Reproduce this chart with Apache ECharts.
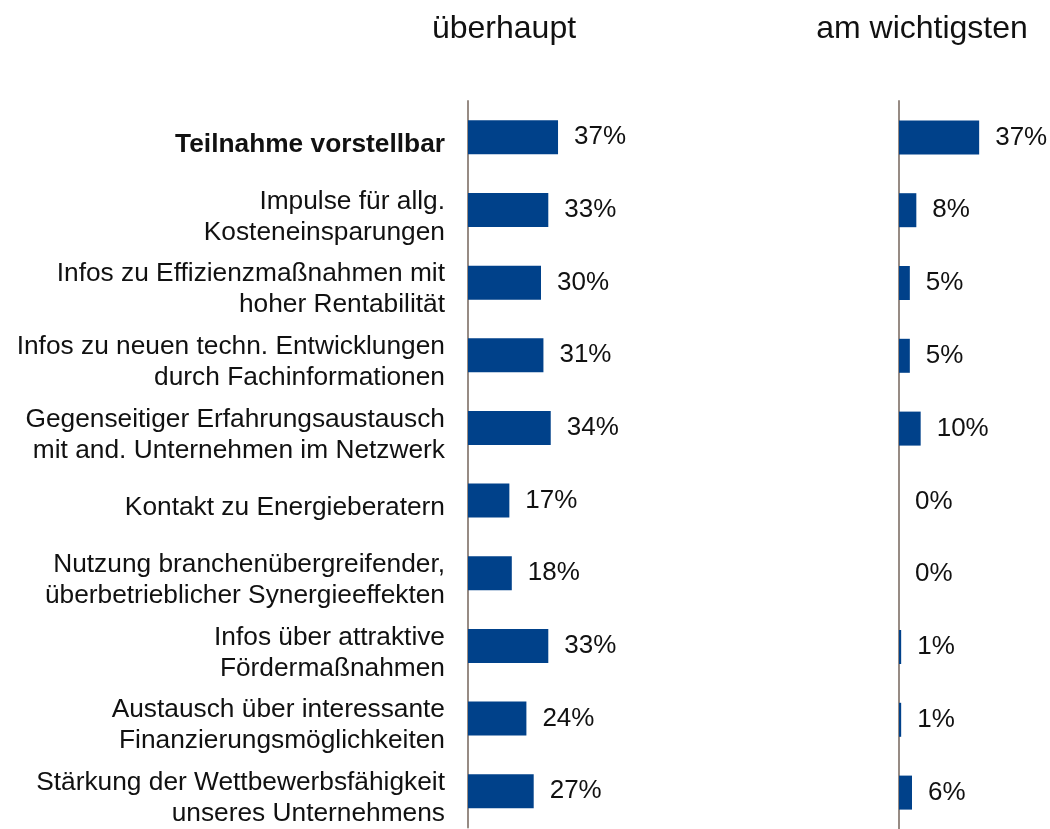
<!DOCTYPE html>
<html>
<head>
<meta charset="utf-8">
<script src="https://cdn.jsdelivr.net/npm/echarts@6/dist/echarts.min.js"></script>
<style>
  html, body { margin: 0; padding: 0; background: #fff; }
  #chart { width: 1050px; height: 829px; }
</style>
</head>
<body>
<div id="chart"></div>
<script>
// data
const categories = [
  "Teilnahme vorstellbar",
  "Impulse für allg.\nKosteneinsparungen",
  "Infos zu Effizienzmaßnahmen mit\nhoher Rentabilität",
  "Infos zu neuen techn. Entwicklungen\ndurch Fachinformationen",
  "Gegenseitiger Erfahrungsaustausch\nmit and. Unternehmen im Netzwerk",
  "Kontakt zu Energieberatern",
  "Nutzung branchenübergreifender,\nüberbetrieblicher Synergieeffekten",
  "Infos über attraktive\nFördermaßnahmen",
  "Austausch über interessante\nFinanzierungsmöglichkeiten",
  "Stärkung der Wettbewerbsfähigkeit\nunseres Unternehmens"
];
const ueberhaupt = [37, 33, 30, 31, 34, 17, 18, 33, 24, 27];
const amWichtigsten = [37, 8, 5, 5, 10, 0, 0, 1, 1, 6];
const panelTitles = ["überhaupt", "am wichtigsten"];

const font = '"Liberation Sans", Arial, Helvetica, sans-serif';
const barColor = "#00418a";
const axisColor = "#978b84";

const chart = echarts.init(document.getElementById("chart"));

const valueLabel = {
  show: true,
  position: "right",
  distance: 16,
  formatter: "{c}%",
  color: "#111",
  fontSize: 26,
  fontFamily: font
};

chart.setOption({
  animation: false,
  backgroundColor: "#fff",
  title: [
    {
      text: panelTitles[0],
      left: 499,
      top: 8,
      textAlign: "center",
      textStyle: { fontSize: 32, fontWeight: "normal", color: "#111", fontFamily: font }
    },
    {
      text: panelTitles[1],
      left: 917,
      top: 8,
      textAlign: "center",
      textStyle: { fontSize: 32, fontWeight: "normal", color: "#111", fontFamily: font }
    }
  ],
  grid: [
    { left: 468, top: 101, width: 146, height: 730 },
    { left: 899, top: 101, width: 130, height: 730 }
  ],
  xAxis: [
    { gridIndex: 0, type: "value", min: 0, max: 60, show: false },
    { gridIndex: 1, type: "value", min: 0, max: 60, show: false }
  ],
  yAxis: [
    {
      gridIndex: 0,
      type: "category",
      inverse: true,
      data: categories,
      axisLine: { show: true, lineStyle: { color: axisColor, width: 2 } },
      axisTick: { show: false },
      axisLabel: {
        interval: 0,
        showMinLabel: true,
        showMaxLabel: true,
        hideOverlap: false,
        margin: 23,
        align: "right",
        color: "#111",
        fontSize: 26.3,
        lineHeight: 31,
        fontFamily: font,
        padding: [14, 0, 0, 0],
        formatter: function (v, i) {
          return i === 0 ? "{b|" + v + "}" : v;
        },
        rich: {
          b: { fontWeight: "bold", fontSize: 26.3, color: "#111", fontFamily: font }
        }
      }
    },
    {
      gridIndex: 1,
      type: "category",
      inverse: true,
      data: categories,
      axisLine: { show: true, lineStyle: { color: axisColor, width: 2 } },
      axisTick: { show: false },
      axisLabel: { show: false }
    }
  ],
  series: [
    {
      type: "bar",
      xAxisIndex: 0,
      yAxisIndex: 0,
      data: ueberhaupt,
      barWidth: 34,
      itemStyle: { color: barColor },
      label: valueLabel
    },
    {
      type: "bar",
      xAxisIndex: 1,
      yAxisIndex: 1,
      data: amWichtigsten,
      barWidth: 34,
      itemStyle: { color: barColor },
      label: valueLabel
    }
  ]
});
</script>
</body>
</html>
